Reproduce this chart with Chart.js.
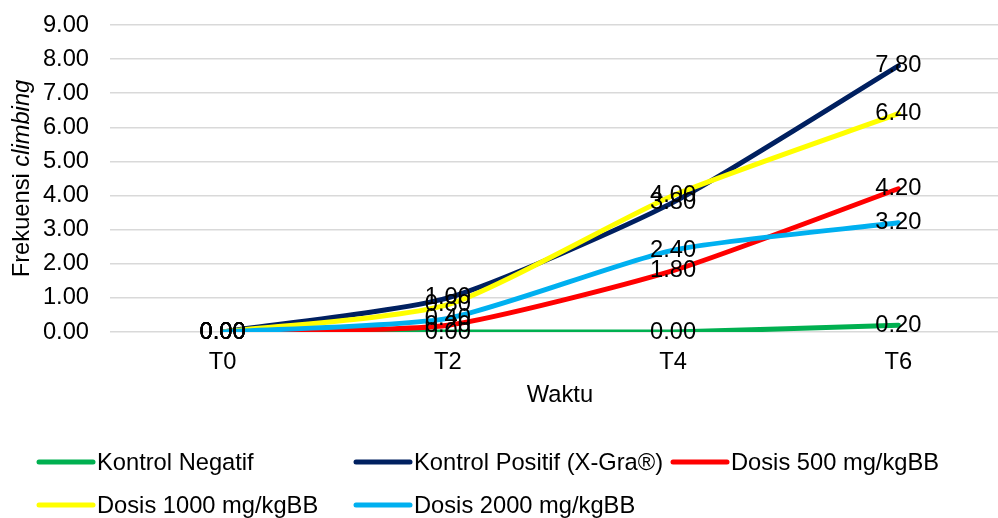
<!DOCTYPE html>
<html>
<head>
<meta charset="utf-8">
<script src="https://cdn.jsdelivr.net/npm/chart.js@4"></script>
<style>
html,body{margin:0;padding:0;overflow:hidden;background:#fff;width:998px;height:518px;}
canvas{display:block;}
</style>
</head>
<body>
<canvas id="c" width="1011" height="518" style="width:1011px;height:518px;"></canvas>
<script>
const categories = ["T0", "T2", "T4", "T6"];
const kontrolNegatif = [0.00, 0.00, 0.00, 0.20];
const kontrolPositif = [0.00, 1.00, 3.80, 7.80];
const dosis500 = [0.00, 0.20, 1.80, 4.20];
const dosis1000 = [0.00, 0.80, 4.00, 6.40];
const dosis2000 = [0.00, 0.40, 2.40, 3.20];
const seriesNames = ["Kontrol Negatif", "Kontrol Positif (X-Gra®)", "Dosis 500 mg/kgBB", "Dosis 1000 mg/kgBB", "Dosis 2000 mg/kgBB"];
const seriesColors = ["#00B050", "#002060", "#FF0000", "#FFFF00", "#00B0F0"];
const yTicks = [0, 1, 2, 3, 4, 5, 6, 7, 8, 9];
const xTitle = "Waktu";
const yTitleNormal = "Frekuensi ";
const yTitleItalic = "climbing";

const FONT = "'Liberation Sans', Arial, sans-serif";
const FS = 23.7;
const allData = [kontrolNegatif, kontrolPositif, dosis500, dosis1000, dosis2000];

const datasets = allData.map((d, i) => ({
  label: seriesNames[i],
  data: d,
  borderColor: seriesColors[i],
  backgroundColor: seriesColors[i],
  borderWidth: 5,
  pointRadius: 0,
  pointHoverRadius: 0,
  tension: 0.2,
  fill: false,
  order: allData.length - i,
  borderCapStyle: 'round',
  borderJoinStyle: 'round'
}));

const overlay = {
  id: 'overlay',
  afterDatasetsDraw(chart) {
    const ctx = chart.ctx;
    ctx.save();
    ctx.fillStyle = '#000';
    ctx.font = FS + 'px ' + FONT;
    ctx.textAlign = 'center';
    ctx.textBaseline = 'middle';
    chart.data.datasets.forEach((ds, i) => {
      const meta = chart.getDatasetMeta(i);
      meta.data.forEach((pt, j) => {
        ctx.fillText(ds.data[j].toFixed(2), pt.x, pt.y);
      });
    });
    ctx.restore();
  },
  afterDraw(chart) {
    const ctx = chart.ctx;
    const ca = chart.chartArea;
    ctx.save();
    ctx.fillStyle = '#000';
    ctx.font = FS + 'px ' + FONT;
    ctx.textAlign = 'center';
    ctx.textBaseline = 'middle';
    ctx.fillText(xTitle, 560, 395);
    ctx.translate(22, (ca.top + ca.bottom) / 2);
    ctx.rotate(-Math.PI / 2);
    ctx.textBaseline = 'middle';
    ctx.textAlign = 'left';
    const fN = FS + 'px ' + FONT, fI = 'italic ' + FS + 'px ' + FONT;
    ctx.font = fN; const w1 = ctx.measureText(yTitleNormal).width;
    ctx.font = fI; const w2 = ctx.measureText(yTitleItalic).width;
    let x0 = -(w1 + w2) / 2;
    ctx.font = fN; ctx.fillText(yTitleNormal, x0, 0);
    ctx.font = fI; ctx.fillText(yTitleItalic, x0 + w1, 0);
    ctx.restore();
    const pos = [[37, 462], [354, 462], [671, 462], [37, 505], [354, 505]];
    ctx.save();
    ctx.font = FS + 'px ' + FONT;
    ctx.textBaseline = 'middle';
    ctx.textAlign = 'left';
    chart.data.datasets.forEach((ds, i) => {
      const [x, y] = pos[i];
      ctx.strokeStyle = ds.borderColor;
      ctx.lineWidth = 5;
      ctx.lineCap = 'round';
      ctx.beginPath();
      ctx.moveTo(x + 2, y);
      ctx.lineTo(x + 56, y);
      ctx.stroke();
      ctx.fillStyle = '#000';
      ctx.fillText(ds.label, x + 60, y + 1);
    });
    ctx.restore();
  }
};

new Chart(document.getElementById('c'), {
  type: 'line',
  data: { labels: categories, datasets },
  options: {
    responsive: false,
    animation: false,
    events: [],
    layout: { padding: { top: 25, right: 0, bottom: 0, left: 0 } },
    plugins: { legend: { display: false }, tooltip: { enabled: false } },
    scales: {
      x: {
        offset: true,
        grid: { display: false, drawTicks: false, offset: true },
        border: { display: false },
        ticks: { color: '#000', font: { family: FONT, size: FS }, padding: 16, maxRotation: 0 },
        afterFit(s) { s.height = 186; s.paddingLeft = 0; s.paddingRight = 0; }
      },
      y: {
        min: 0, max: 9,
        afterBuildTicks(s) { s.ticks = yTicks.map(v => ({ value: v })); },
        grid: { color: '#D9D9D9', lineWidth: 1.5, drawTicks: false },
        border: { display: false },
        ticks: { color: '#000', font: { family: FONT, size: FS }, padding: 21, callback: v => Number(v).toFixed(2) },
        afterFit(s) { s.width = 110; s.paddingTop = 0; s.paddingBottom = 0; }
      }
    }
  },
  plugins: [overlay]
});
</script>
</body>
</html>
